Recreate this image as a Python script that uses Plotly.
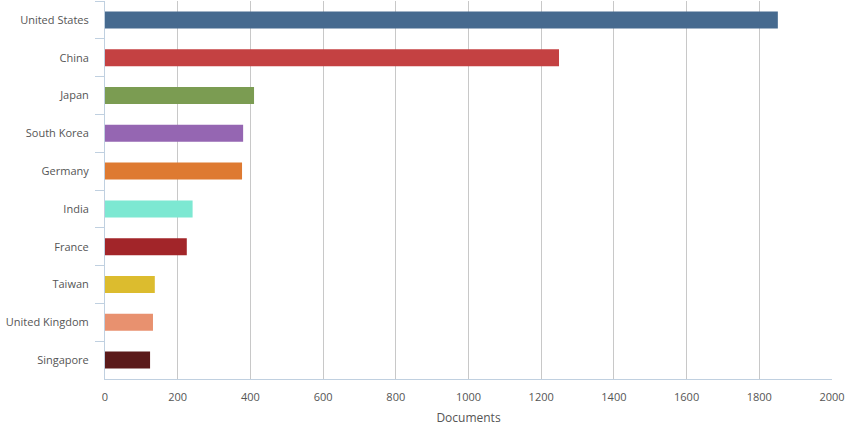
import plotly.graph_objects as go

countries = ["United States", "China", "Japan", "South Korea", "Germany",
             "India", "France", "Taiwan", "United Kingdom", "Singapore"]
documents = [1851, 1249, 410, 380, 377, 241, 225, 137, 132, 124]
bar_colors = ["#466a8f", "#c44142", "#7b9c52", "#9566b2", "#de7a31",
              "#7de8d2", "#a22529", "#dcbc2e", "#e8916f", "#5b1a1a"]
x_ticks = [0, 200, 400, 600, 800, 1000, 1200, 1400, 1600, 1800, 2000]

fig = go.Figure()
fig.add_trace(go.Bar(
    x=documents, y=countries, orientation="h",
    marker=dict(color=bar_colors, line_width=0),
    width=0.45,
))

fig.update_layout(
    width=858, height=426,
    margin=dict(l=105, r=26, t=1, b=47),
    plot_bgcolor="white", paper_bgcolor="white",
    font=dict(family="Open Sans, Lato, sans-serif", size=11, color="#555555"),
    showlegend=False,
)
fig.update_xaxes(
    range=[0, 2000], tickvals=x_ticks,
    showgrid=True, gridcolor="#c8c8c8", gridwidth=1,
    zeroline=False, automargin=False,
    showline=True, linecolor="#c0d0e0", linewidth=1,
    ticks="", ticklabelstandoff=8,
    title=dict(text="Documents", font=dict(size=12, color="#555555"), standoff=10),
    tickfont=dict(size=11, color="#555555"),
)
fig.update_yaxes(
    autorange="reversed", automargin=False,
    showgrid=False, zeroline=False,
    showline=True, linecolor="#c0d0e0", linewidth=1,
    ticks="outside", ticklen=9, tickcolor="#c0d0e0", tickson="boundaries",
    tickfont=dict(size=11, color="#555555"),
    ticklabelstandoff=13,
)

# page body has a default 8px margin; drop it so the figure sits at the corner
fig.write_html("out.html", config={"displayModeBar": False},
               post_script="document.body.style.margin='0';")
